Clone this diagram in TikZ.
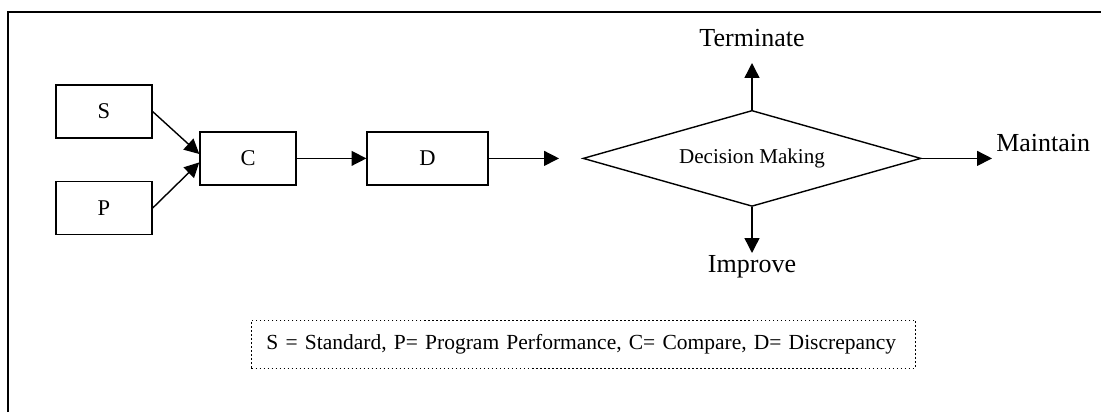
\documentclass[tikz,border=0pt]{standalone}
\usepackage{fontspec}
\setmainfont{Liberation Serif}
\usetikzlibrary{arrows.meta,shapes.geometric}

\tikzset{
  block/.style={draw, line width=1pt, minimum height=1.325cm, inner sep=0pt,
    font=\fontsize{16}{19}\selectfont},
  decision/.style={draw, diamond, aspect=3.52, line width=1pt, inner sep=0pt,
    minimum width=8.45cm, minimum height=2.4cm, font=\fontsize{15}{18}\selectfont},
  outcome/.style={inner sep=0pt, anchor=base, font=\fontsize{18.5}{22}\selectfont},
  flow/.style={line width=1pt, -{Triangle[length=0.37cm,width=0.37cm]}},
  legend/.style={draw, line width=0.7pt, dash pattern=on 1.1pt off 1.75pt,
    minimum height=1.2cm, text width=15.85cm, inner xsep=0.375cm, align=left,
    font=\fontsize{15.3}{18}\selectfont},
}

\begin{document}
\begin{tikzpicture}

\useasboundingbox (0,0) rectangle (27.525,10.3);
\draw [line width=1.4pt] (0.2,0) |- (27.525,10);

% boxes
\node[block, minimum width=2.4cm] (S) at (2.6,7.51) {S};
\node[block, minimum width=2.4cm] (P) at (2.6,5.1) {P};
\node[block, minimum width=2.4cm] (C) at (6.2,6.34) {C};
\node[block, minimum width=3.025cm] (D) at (10.69,6.34) {D};
\node[decision] (M) at (18.8,6.34) {Decision Making};

\coordinate (in) at (13.975,6.34);
\coordinate (up) at (18.8,8.725);
\coordinate (down) at (18.8,3.975);
\coordinate (right) at (24.8,6.34);

\draw [flow] (S.east) -- ([yshift=0.11cm]C.west);
\draw [flow] (P.east) -- ([yshift=-0.1cm]C.west);
\draw [flow] (C.east) -- (D.west);
\draw [flow] (D.east) -- (in);
\draw [flow] (M.north) -- (up);
\draw [flow] (M.south) -- (down);
\draw [flow] (M.east) -- (right);

\node[outcome] (term) at (18.8,9.125) {Terminate};
\node[outcome] (impr) at (18.8,3.475) {Improve};
\node[outcome, anchor=base west] (maint) at (24.9,6.5) {Maintain};

% key
\node[legend, anchor=west] (key) at (6.275,1.7)
  {S = Standard, P= Program Performance, C= Compare, D= Discrepancy};

\end{tikzpicture}
\end{document}
